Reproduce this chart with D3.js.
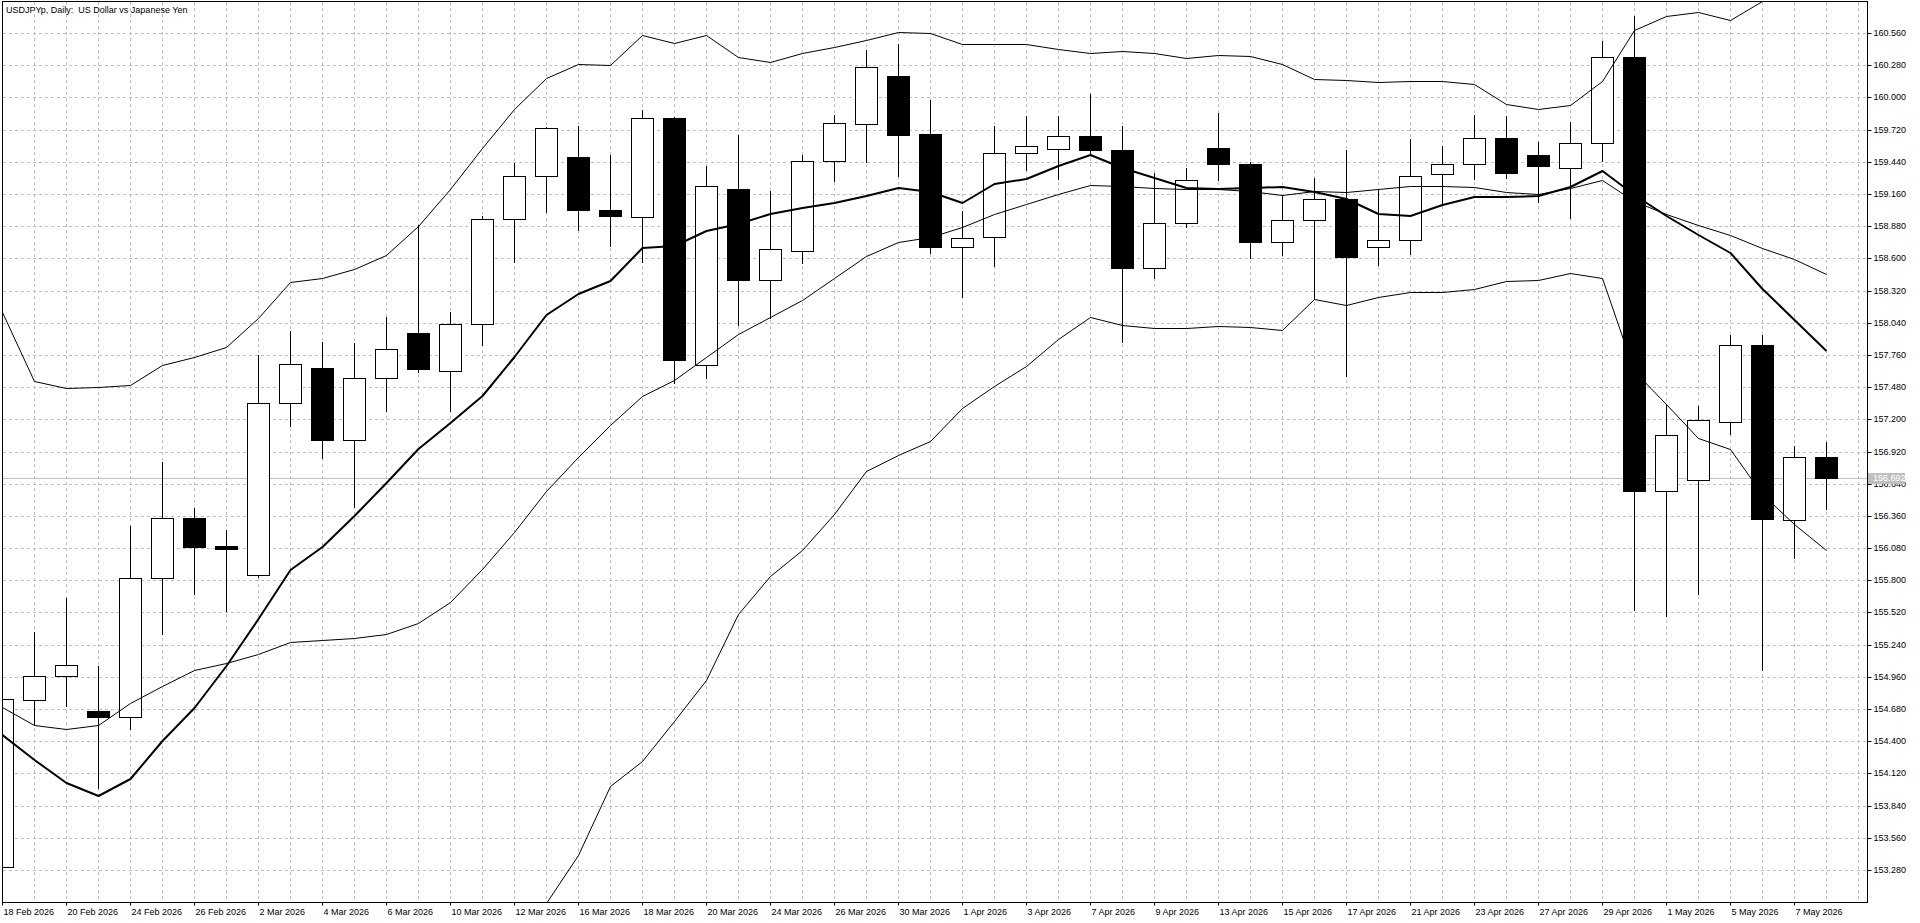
<!DOCTYPE html>
<html><head><meta charset="utf-8">
<script src="https://cdn.jsdelivr.net/npm/d3@7"></script>
<style>
html,body{margin:0;padding:0;background:#fff;overflow:hidden}
svg{display:block}
</style></head><body>
<svg id="chart" width="1920" height="923"></svg>
<script>
const title = "USDJPYp, Daily:  US Dollar vs Japanese Yen";
const dates = ["18 Feb 2026","19 Feb 2026","20 Feb 2026","23 Feb 2026","24 Feb 2026","25 Feb 2026","26 Feb 2026","27 Feb 2026",
"2 Mar 2026","3 Mar 2026","4 Mar 2026","5 Mar 2026","6 Mar 2026","9 Mar 2026","10 Mar 2026","11 Mar 2026","12 Mar 2026","13 Mar 2026",
"16 Mar 2026","17 Mar 2026","18 Mar 2026","19 Mar 2026","20 Mar 2026","23 Mar 2026","24 Mar 2026","25 Mar 2026","26 Mar 2026","27 Mar 2026",
"30 Mar 2026","31 Mar 2026","1 Apr 2026","2 Apr 2026","3 Apr 2026","6 Apr 2026","7 Apr 2026","8 Apr 2026","9 Apr 2026","10 Apr 2026",
"13 Apr 2026","14 Apr 2026","15 Apr 2026","16 Apr 2026","17 Apr 2026","20 Apr 2026","21 Apr 2026","22 Apr 2026","23 Apr 2026","24 Apr 2026",
"27 Apr 2026","28 Apr 2026","29 Apr 2026","30 Apr 2026","1 May 2026","4 May 2026","5 May 2026","6 May 2026","7 May 2026","8 May 2026"];
const open  = [153.31,154.76,154.97,154.66,154.61,155.82,156.34,156.10,155.85,157.34,157.65,157.02,157.56,157.95,157.62,158.03,158.94,159.32,
159.48,159.02,158.96,159.82,157.67,159.20,158.41,158.66,159.45,159.77,160.19,159.68,158.70,158.79,159.52,159.55,159.66,159.54,158.52,158.91,
159.56,159.42,158.74,158.93,159.12,158.70,158.76,159.33,159.42,159.65,159.50,159.39,159.60,160.35,156.58,156.67,157.18,157.85,156.32,156.87];
const high  = [154.85,155.35,155.65,155.05,156.27,156.83,156.43,156.24,157.76,157.97,157.87,157.86,158.09,158.89,158.13,158.97,159.43,159.74,
159.75,159.50,159.89,159.83,159.40,159.67,159.19,159.50,159.85,160.41,160.46,159.98,159.01,159.75,159.84,159.84,160.03,159.75,159.34,159.39,
159.86,159.44,159.15,159.30,159.54,159.20,159.64,159.58,159.85,159.84,159.61,159.79,160.49,160.71,157.33,157.32,157.93,157.93,156.97,157.00];
const low   = [153.20,154.54,154.71,153.99,154.51,155.33,155.68,155.53,155.83,157.14,156.86,156.44,157.27,157.61,157.27,157.85,158.57,159.00,
158.85,158.71,158.57,157.52,157.56,158.02,158.08,158.56,159.27,159.44,159.32,158.65,158.26,158.53,159.37,159.29,159.50,157.87,158.43,158.87,
159.28,158.60,158.63,158.25,157.58,158.54,158.64,159.08,159.29,159.30,159.09,158.95,159.45,155.54,155.49,155.68,157.07,155.02,155.99,156.42];
const close = [154.77,154.97,155.06,154.61,155.82,156.34,156.09,156.07,157.34,157.68,157.02,157.56,157.81,157.64,158.03,158.94,159.32,159.73,
159.02,158.97,159.82,157.72,159.23,158.41,158.68,159.45,159.78,160.26,159.67,158.70,158.78,159.52,159.58,159.66,159.54,158.52,158.91,159.28,
159.42,158.74,158.93,159.12,158.61,158.76,159.32,159.42,159.65,159.34,159.40,159.60,160.35,156.58,157.06,157.19,157.85,156.33,156.87,156.692];
// thick moving average
const maLine = [154.45,154.24,154.04,153.92,154.07,154.40,154.69,155.05,155.46,155.89,156.09,156.36,156.65,156.94,157.17,157.40,157.74,158.11,
158.29,158.40,158.69,158.71,158.84,158.90,158.99,159.04,159.08,159.14,159.21,159.18,159.08,159.25,159.29,159.40,159.50,159.39,159.30,159.21,
159.20,159.21,159.22,159.18,159.12,158.99,158.97,159.06,159.13,159.13,159.14,159.22,159.36,159.15,158.97,158.80,158.65,158.33,158.06,157.79];
// Bollinger bands
const bbUpper = [158.13,157.53,157.47,157.48,157.50,157.67,157.74,157.83,158.08,158.39,158.43,158.51,158.63,158.88,159.20,159.56,159.90,160.17,
160.29,160.28,160.54,160.47,160.54,160.35,160.31,160.39,160.44,160.50,160.57,160.56,160.46,160.46,160.46,160.42,160.39,160.40,160.39,160.34,
160.37,160.36,160.29,160.16,160.15,160.13,160.14,160.14,160.12,159.94,159.90,159.93,160.14,160.59,160.71,160.74,160.67,160.84,160.90,160.88];
const bbMiddle = [154.70,154.54,154.51,154.54,154.73,154.88,155.02,155.08,155.16,155.26,155.28,155.30,155.33,155.43,155.61,155.90,156.22,156.58,
156.87,157.15,157.40,157.54,157.74,157.94,158.09,158.24,158.43,158.62,158.74,158.79,158.87,158.99,159.07,159.16,159.24,159.23,159.21,159.20,
159.20,159.19,159.15,159.19,159.18,159.20,159.23,159.23,159.22,159.18,159.16,159.21,159.28,159.10,158.99,158.89,158.80,158.69,158.59,158.46];
const bbLower = [151.27,151.55,151.55,151.60,151.96,152.09,152.30,152.33,152.24,152.13,152.13,152.09,152.04,151.98,152.02,152.24,152.54,152.99,
153.41,154.01,154.23,154.58,154.93,155.51,155.84,156.06,156.38,156.75,156.89,157.01,157.30,157.49,157.66,157.90,158.09,158.02,157.99,157.99,
158.01,158.00,157.98,158.25,158.19,158.26,158.31,158.31,158.33,158.40,158.41,158.47,158.43,157.62,157.33,157.04,156.94,156.55,156.29,156.06];
const priceTicks = [153.28,153.56,153.84,154.12,154.40,154.68,154.96,155.24,155.52,155.80,156.08,156.36,156.64,156.92,157.20,157.48,157.76,
158.04,158.32,158.60,158.88,159.16,159.44,159.72,160.00,160.28,160.56];
const xTickLabels = ["18 Feb 2026","20 Feb 2026","24 Feb 2026","26 Feb 2026","2 Mar 2026","4 Mar 2026","6 Mar 2026","10 Mar 2026","12 Mar 2026",
"16 Mar 2026","18 Mar 2026","20 Mar 2026","24 Mar 2026","26 Mar 2026","30 Mar 2026","1 Apr 2026","3 Apr 2026","7 Apr 2026","9 Apr 2026",
"13 Apr 2026","15 Apr 2026","17 Apr 2026","21 Apr 2026","23 Apr 2026","27 Apr 2026","29 Apr 2026","1 May 2026","5 May 2026","7 May 2026"];
const lastPrice = 156.692;

const FONT = '"Liberation Sans", Arial, sans-serif';
const plot = {left: 2, top: 1, right: 1867, bottom: 902};
const svg = d3.select("#chart");
svg.append("rect").attr("width",1920).attr("height",923).attr("fill","#fff");

const x = d3.scalePoint().domain(dates).range([2, 2 + 32 * (dates.length - 1)]);
const step = x.step();
const y = d3.scaleLinear().domain([153.28, 160.56]).rangeRound([870, 33]);

svg.append("defs").append("clipPath").attr("id","plotClip")
  .append("rect").attr("x",plot.left+0.5).attr("y",plot.top+0.5)
  .attr("width",plot.right-plot.left).attr("height",plot.bottom-plot.top);

// grid
const grid = svg.append("g").attr("stroke","#c0c0c0").attr("stroke-dasharray","3,3").attr("stroke-width",1);
grid.selectAll("line.h").data(priceTicks).join("line").attr("class","h")
  .attr("x1",plot.left+1).attr("x2",plot.right)
  .attr("y1",d=>y(d)+0.5).attr("y2",d=>y(d)+0.5);
const gridX = d3.range(1, Math.floor((plot.right - plot.left) / step) + 1).map(k => plot.left + k * step);
grid.selectAll("line.v").data(gridX).join("line").attr("class","v")
  .attr("x1",d=>d+0.5).attr("x2",d=>d+0.5).attr("y1",plot.top+1).attr("y2",plot.bottom);

// current price line
svg.append("line").attr("x1",plot.left+1).attr("x2",plot.right)
  .attr("y1",y(lastPrice)+0.5).attr("y2",y(lastPrice)+0.5)
  .attr("stroke","#c0c0c0").attr("stroke-width",1);

const bars = dates.map((d,i)=>({d, o:open[i], h:high[i], l:low[i], c:close[i]}));
const cg = svg.append("g").attr("clip-path","url(#plotClip)");

// white body fills (under indicator lines)
cg.append("g").selectAll("rect").data(bars.filter(b=>b.c>=b.o)).join("rect")
  .attr("x",b=>x(b.d)-11+0.5).attr("width",22)
  .attr("y",b=>y(Math.max(b.o,b.c))+0.5)
  .attr("height",b=>Math.max(0,y(Math.min(b.o,b.c))-y(Math.max(b.o,b.c))))
  .attr("fill","#fff");

// indicator lines
function drawLine(vals, w){
  const line = d3.line().x((v,i)=>x(dates[i])+0.5).y(v=>y(v)+(w%2?0.5:0));
  cg.append("path").datum(vals).attr("d",line).attr("fill","none")
    .attr("stroke","#000").attr("stroke-width",w).attr("stroke-linejoin","round");
}
drawLine(bbUpper,1);
drawLine(bbMiddle,1);
drawLine(bbLower,1);
drawLine(maLine,2);

// wicks
const wk = cg.append("g").attr("stroke","#000").attr("stroke-width",1);
wk.selectAll("line.u").data(bars).join("line").attr("class","u")
  .attr("x1",b=>x(b.d)+0.5).attr("x2",b=>x(b.d)+0.5)
  .attr("y1",b=>y(b.h)).attr("y2",b=>y(Math.max(b.o,b.c))+0.5);
wk.selectAll("line.d").data(bars).join("line").attr("class","d")
  .attr("x1",b=>x(b.d)+0.5).attr("x2",b=>x(b.d)+0.5)
  .attr("y1",b=>y(Math.min(b.o,b.c))+0.5).attr("y2",b=>y(b.l)+1);
// bodies
cg.append("g").selectAll("rect").data(bars).join("rect")
  .attr("x",b=>x(b.d)-11+0.5).attr("width",22)
  .attr("y",b=>y(Math.max(b.o,b.c))+0.5)
  .attr("height",b=>Math.max(0,y(Math.min(b.o,b.c))-y(Math.max(b.o,b.c))))
  .attr("fill",b=>b.c>=b.o?"none":"#000")
  .attr("stroke","#000").attr("stroke-width",1);

// frame
svg.append("rect").attr("x",plot.left+0.5).attr("y",plot.top+0.5)
  .attr("width",plot.right-plot.left).attr("height",plot.bottom-plot.top)
  .attr("fill","none").attr("stroke","#000").attr("stroke-width",1);

// x axis
const xAxis = d3.axisBottom(x).tickValues(xTickLabels).tickSize(3).tickSizeOuter(0).tickPadding(3).offset(0.5).tickFormat(d=>d);
const gx = svg.append("g").attr("transform",`translate(0,${plot.bottom+0.5})`).call(xAxis);
gx.select(".domain").remove();
gx.attr("font-family",FONT).attr("font-size",9);
gx.selectAll(".tick text").attr("text-anchor","start").attr("x",1).attr("fill","#000");
gx.selectAll(".tick line").attr("stroke","#000");

// y axis
const yAxis = d3.axisRight(y).tickValues(priceTicks).tickSize(4).tickPadding(2).offset(0.5).tickFormat(d3.format(".3f"));
const gy = svg.append("g").attr("transform",`translate(${plot.right+0.5},0)`).call(yAxis);
gy.select(".domain").remove();
gy.attr("font-family",FONT).attr("font-size",9);
gy.selectAll(".tick text").attr("fill","#000");
gy.selectAll(".tick line").attr("stroke","#000");

// last price tag
const ly = y(lastPrice)+0.5;
svg.append("rect").attr("x",plot.right+1).attr("y",ly-5.5).attr("width",37).attr("height",11).attr("fill","#c0c0c0");
svg.append("text").attr("x",plot.right+6).attr("y",ly).attr("dy","0.33em")
  .attr("font-family",FONT).attr("font-size",9).attr("fill","#fff").text(d3.format(".3f")(lastPrice));

// title
svg.append("text").attr("x",6).attr("y",13).style("white-space","pre")
  .attr("font-family",FONT).attr("font-size",9).attr("fill","#000").text(title);
</script>
</body></html>
